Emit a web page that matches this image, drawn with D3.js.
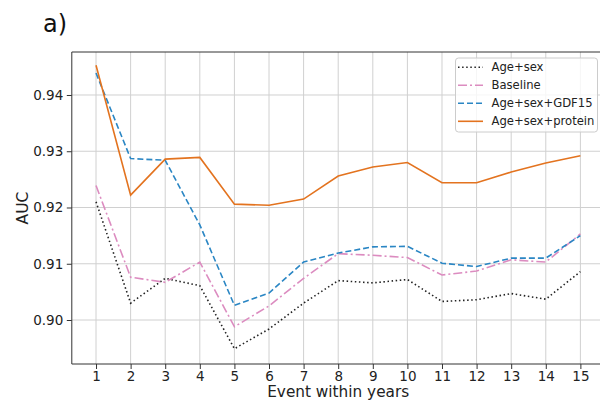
<!DOCTYPE html>
<html>
<head>
<meta charset="utf-8">
<script src="https://cdn.jsdelivr.net/npm/d3@7"></script>
<style>
  body { margin: 0; background: #fff; }
  svg { display: block; font-family: "DejaVu Sans", sans-serif; }
</style>
</head>
<body>
<svg id="chart" width="600" height="403"></svg>
<script>
const years = [1,2,3,4,5,6,7,8,9,10,11,12,13,14,15];
const ageSex   = [0.9210,0.9030,0.9074,0.9061,0.8949,0.8984,0.9030,0.9070,0.9066,0.9072,0.9033,0.9036,0.9047,0.9037,0.9086];
const baseline = [0.9239,0.9076,0.9067,0.9103,0.8988,0.9025,0.9074,0.9118,0.9115,0.9111,0.9080,0.9087,0.9107,0.9103,0.9153];
const gdf15    = [0.9439,0.9287,0.9284,0.9169,0.9026,0.9048,0.9103,0.9119,0.9130,0.9131,0.9101,0.9095,0.9110,0.9110,0.9150];
const protein  = [0.9453,0.9222,0.9286,0.9289,0.9206,0.9204,0.9215,0.9256,0.9272,0.9280,0.9244,0.9244,0.9263,0.9279,0.9292];
const yTicks = [0.90,0.91,0.92,0.93,0.94];
const seriesNames = ["Age+sex","Baseline","Age+sex+GDF15","Age+sex+protein"];

const series = [
  {name: seriesNames[0], values: ageSex,   color: "#222222", dash: "1.5,2.6"},
  {name: seriesNames[1], values: baseline, color: "#dc8cc0", dash: "9,3,2,3"},
  {name: seriesNames[2], values: gdf15,    color: "#2a86c4", dash: "6,3"},
  {name: seriesNames[3], values: protein,  color: "#e3731f", dash: null}
];

const svg = d3.select("#chart");
const L = 71.8, R = 604.6, T = 52, B = 364;
const x = d3.scaleLinear().domain([0.3, 15.7]).range([L, R]);
const y = d3.scaleLinear().domain([0.892178, 0.947644]).range([B, T]);

// grid
const grid = svg.append("g");
grid.selectAll("line.gx").data(years).enter().append("line")
  .attr("x1", d => x(d)).attr("x2", d => x(d)).attr("y1", T).attr("y2", B)
  .attr("stroke", "#d0d0d0").attr("stroke-width", 1);
grid.selectAll("line.gy").data(yTicks).enter().append("line")
  .attr("x1", L).attr("x2", R).attr("y1", d => y(d)).attr("y2", d => y(d))
  .attr("stroke", "#d0d0d0").attr("stroke-width", 1);

// lines
const line = d3.line().x((d, i) => x(years[i])).y(d => y(d));
series.forEach(s => {
  svg.append("path").datum(s.values)
    .attr("d", line).attr("fill", "none")
    .attr("stroke", s.color).attr("stroke-width", 1.6)
    .attr("stroke-dasharray", s.dash);
});

// axes
const xAxis = svg.append("g").attr("transform", `translate(0,${B})`)
  .call(d3.axisBottom(x).tickValues(years).tickSize(5).tickPadding(2.5).tickFormat(d3.format("d")));
const yAxis = svg.append("g").attr("transform", `translate(${L},0)`)
  .call(d3.axisLeft(y).tickValues(yTicks).tickSize(5).tickPadding(3.5).tickFormat(d3.format(".2f")));
[xAxis, yAxis].forEach(a => {
  a.select(".domain").remove();
  a.selectAll("text").attr("font-size", 13.5).attr("fill", "#222").attr("font-family", "DejaVu Sans");
  a.selectAll("line").attr("stroke", "#333");
});

// spines
svg.append("line").attr("x1", L).attr("x2", L).attr("y1", T).attr("y2", B).attr("stroke", "#333").attr("stroke-width", 1);
svg.append("line").attr("x1", L).attr("x2", R).attr("y1", T).attr("y2", T).attr("stroke", "#333").attr("stroke-width", 1);
svg.append("line").attr("x1", L).attr("x2", R).attr("y1", B).attr("y2", B).attr("stroke", "#333").attr("stroke-width", 1);
svg.append("line").attr("x1", R).attr("x2", R).attr("y1", T).attr("y2", B).attr("stroke", "#333").attr("stroke-width", 1);

// labels
svg.append("text").attr("x", (L + R) / 2).attr("y", 397).attr("text-anchor", "middle")
  .attr("font-size", 15.3).attr("fill", "#222").text("Event within years");
svg.append("text").attr("transform", `translate(28,${(T + B) / 2}) rotate(-90)`).attr("text-anchor", "middle")
  .attr("font-size", 15.5).attr("fill", "#222").text("AUC");
svg.append("text").attr("x", 43).attr("y", 32).attr("font-size", 24).attr("fill", "#111").text("a)");

// legend
const lg = svg.append("g");
lg.append("rect").attr("x", 455.5).attr("y", 58).attr("width", 142).attr("height", 74).attr("rx", 3)
  .attr("fill", "#fff").attr("fill-opacity", 0.8).attr("stroke", "#cccccc").attr("stroke-width", 1);
series.forEach((s, i) => {
  const cy = 67.3 + i * 18;
  lg.append("line").attr("x1", 458).attr("x2", 483).attr("y1", cy).attr("y2", cy)
    .attr("stroke", s.color).attr("stroke-width", 1.6).attr("stroke-dasharray", s.dash);
  lg.append("text").attr("x", 491.5).attr("y", cy).attr("dy", "0.35em")
    .attr("font-size", 11.6).attr("fill", "#222").text(s.name);
});
</script>
</body>
</html>
